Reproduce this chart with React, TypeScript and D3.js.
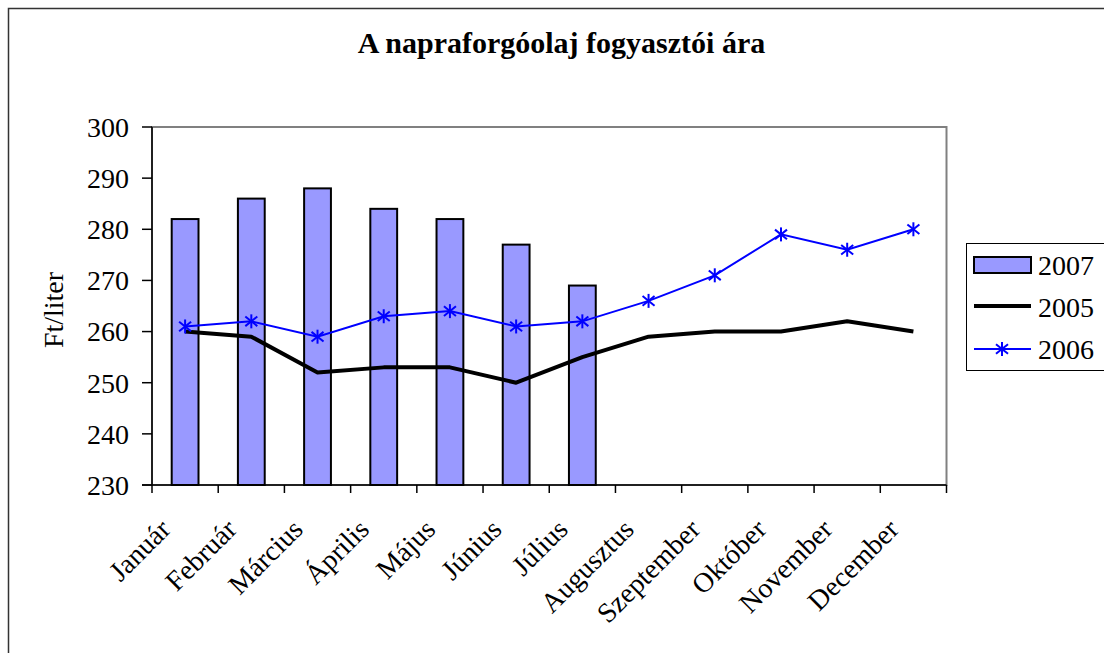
import React from "react";
import * as d3 from "d3";

const categories = ["Január", "Február", "Március", "Április", "Május", "Június", "Július", "Augusztus", "Szeptember", "Október", "November", "December"];
const values2007 = [282, 286, 288, 284, 282, 277, 269];
const values2005 = [260, 259, 252, 253, 253, 250, 255, 259, 260, 260, 262, 260];
const values2006 = [261, 262, 259, 263, 264, 261, 262, 266, 271, 279, 276, 280];
const yTicks = [230, 240, 250, 260, 270, 280, 290, 300];
const title = "A napraforgóolaj fogyasztói ára";
const yLabel = "Ft/liter";
const legendItems = ["2007", "2005", "2006"];

const W = 1104;
const H = 653;
const plot = { left: 152, right: 946.5, top: 127, bottom: 485 };
const FONT = "'Liberation Serif', 'Times New Roman', serif";

function Star({ x, y, color }: { x: number; y: number; color: string }) {
  const r = 7;
  const d = 6;
  return (
    <g stroke={color} strokeWidth={2}>
      <line x1={x} y1={y - r} x2={x} y2={y + r} />
      <line x1={x - d} y1={y - d * 0.8} x2={x + d} y2={y + d * 0.8} />
      <line x1={x - d} y1={y + d * 0.8} x2={x + d} y2={y - d * 0.8} />
    </g>
  );
}

export default function App() {
  const x = d3.scaleBand<string>().domain(categories).range([plot.left, plot.right]).paddingInner(0).paddingOuter(0);
  const y = d3.scaleLinear().domain([230, 300]).range([plot.bottom, plot.top]);
  const step = x.step();
  const barW = step * 0.405;
  const cx = (c: string) => (x(c) as number) + step / 2;

  const line = d3
    .line<number>()
    .x((_, i) => cx(categories[i]))
    .y((v) => y(v));

  const boundaries = categories.map((c) => x(c) as number).concat([plot.right]);

  return (
    <svg width={W} height={H} style={{ position: "absolute", left: 0, top: 0, background: "#fff" }} fontFamily={FONT}>
      <rect x={0} y={0} width={W} height={H} fill="#fff" />
      <rect x={8.5} y={8.5} width={W + 10} height={H + 10} fill="none" stroke="#333" strokeWidth={1.5} />

      <text x={561.5} y={53} textAnchor="middle" fontWeight="bold" fontSize={30} fontFamily={FONT}>
        {title}
      </text>

      {/* plot area border */}
      <rect x={plot.left} y={plot.top} width={plot.right - plot.left} height={plot.bottom - plot.top} fill="none" stroke="#808080" strokeWidth={2} />

      {/* bars */}
      {values2007.map((v, i) => (
        <rect
          key={i}
          x={cx(categories[i]) - barW / 2}
          y={y(v)}
          width={barW}
          height={y(230) - y(v)}
          fill="#9999FF"
          stroke="#000"
          strokeWidth={2}
        />
      ))}

      {/* axes */}
      <line x1={plot.left} y1={plot.top} x2={plot.left} y2={plot.bottom} stroke="#000" strokeWidth={1.5} />
      <line x1={plot.left - 10} y1={plot.bottom} x2={plot.right} y2={plot.bottom} stroke="#000" strokeWidth={1.5} />
      {yTicks.map((t) => (
        <g key={t}>
          <line x1={plot.left - 10} y1={y(t)} x2={plot.left} y2={y(t)} stroke="#000" strokeWidth={1.5} />
          <text x={129} y={y(t)} dy="0.35em" textAnchor="end" fontSize={28} fontFamily={FONT}>
            {t}
          </text>
        </g>
      ))}
      {boundaries.map((b, i) => (
        <line key={i} x1={b} y1={plot.bottom} x2={b} y2={plot.bottom + 8} stroke="#000" strokeWidth={1.5} />
      ))}
      {categories.map((c) => (
        <text key={c} transform={`translate(${cx(c) - 13},${531}) rotate(-45)`} textAnchor="end" fontSize={28} fontFamily={FONT}>
          {c}
        </text>
      ))}

      <text transform={`translate(63,${310}) rotate(-90)`} textAnchor="middle" fontSize={28} fontFamily={FONT}>
        {yLabel}
      </text>

      {/* lines */}
      <path d={line(values2005) || ""} fill="none" stroke="#000" strokeWidth={4} strokeLinejoin="round" />
      <path d={line(values2006) || ""} fill="none" stroke="#0000FF" strokeWidth={2} />
      {values2006.map((v, i) => (
        <Star key={i} x={cx(categories[i])} y={y(v)} color="#0000FF" />
      ))}

      {/* legend */}
      <rect x={966.5} y={243.5} width={150} height={127} fill="#fff" stroke="#000" strokeWidth={1} />
      <rect x={974} y={257} width={57} height={16} fill="#9999FF" stroke="#000" strokeWidth={2} />
      <text x={1038} y={275} fontSize={28} fontFamily={FONT}>{legendItems[0]}</text>
      <line x1={974} y1={306} x2={1031} y2={306} stroke="#000" strokeWidth={4} />
      <text x={1038} y={317} fontSize={28} fontFamily={FONT}>{legendItems[1]}</text>
      <line x1={974} y1={349} x2={1031} y2={349} stroke="#0000FF" strokeWidth={2} />
      <Star x={1002} y={349} color="#0000FF" />
      <text x={1038} y={359} fontSize={28} fontFamily={FONT}>{legendItems[2]}</text>
    </svg>
  );
}
